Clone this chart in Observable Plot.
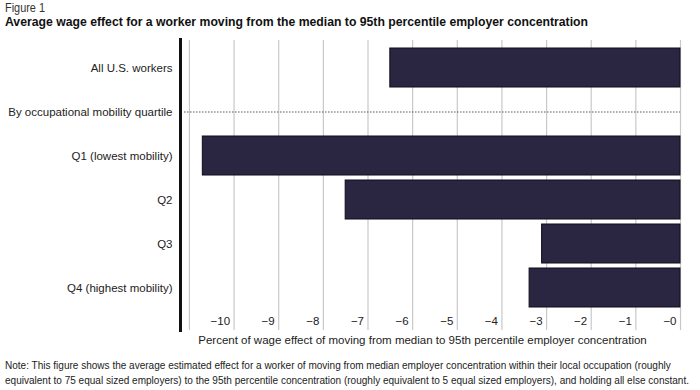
<!DOCTYPE html>
<html>
<head>
<meta charset="utf-8">
<script src="https://cdn.jsdelivr.net/npm/d3@7"></script>
<script src="https://cdn.jsdelivr.net/npm/@observablehq/plot@0.6"></script>
<style>
  html, body { margin: 0; padding: 0; background: #fff; }
  body { width: 700px; height: 390px; position: relative; overflow: hidden; font-family: "Liberation Sans", Arial, sans-serif; }
  .line { position: absolute; left: 5px; white-space: nowrap; transform-origin: 0 50%; display: inline-block; }
  .fig { top: 1px; font: 12.5px "Liberation Sans", Arial, sans-serif; color: #333; }
  .title { top: 14px; font: bold 13.5px "Liberation Sans", Arial, sans-serif; color: #111; }
  #chart { position: absolute; left: 0; top: 34px; }
  .note { font: 11px "Liberation Sans", Arial, sans-serif; color: #222; }
</style>
</head>
<body>
<span class="line fig" id="fig"></span>
<span class="line title" id="title"></span>
<div id="chart"></div>
<span class="line note" id="note1" style="top:359px"></span>
<span class="line note" id="note2" style="top:374px"></span>
<script>
const figureLabel = "Figure 1";
const titleText = "Average wage effect for a worker moving from the median to 95th percentile employer concentration";
const categories = ["All U.S. workers", "By occupational mobility quartile", "Q1 (lowest mobility)", "Q2", "Q3", "Q4 (highest mobility)"];
const values = [-6.50, null, -10.70, -7.50, -3.10, -3.38];
const separatorCategory = "By occupational mobility quartile";
const gridTicks = [-11, -10, -9, -8, -7, -6, -5, -4, -3, -2, -1, 0];
const labelTicks = [-10, -9, -8, -7, -6, -5, -4, -3, -2, -1, 0];
const tickLabels = ["−10", "−9", "−8", "−7", "−6", "−5", "−4", "−3", "−2", "−1", "−0"];
const xLabel = "Percent of wage effect of moving from median to 95th percentile employer concentration";
const noteLines = [
  "Note: This figure shows the average estimated effect for a worker of moving from median employer concentration within their local occupation (roughly",
  "equivalent to 75 equal sized employers) to the 95th percentile concentration (roughly equivalent to 5 equal sized employers), and holding all else constant."
];

function fit(el, text, target) {
  el.textContent = text;
  const w = el.getBoundingClientRect().width;
  const s = target / w;
  el.style.transform = `scaleX(${s})`;
  return s;
}
fit(document.getElementById("fig"), figureLabel, 40);
fit(document.getElementById("title"), titleText, 583);
const ns = fit(document.getElementById("note2"), noteLines[1], 684);
const n1 = document.getElementById("note1");
n1.textContent = noteLines[0];
n1.style.transform = `scaleX(${ns})`;

const xMin = -11.2;
const data = categories.map((c, i) => ({category: c, value: values[i]})).filter(d => d.value != null);
const tickText = new Map(labelTicks.map((t, i) => [t, tickLabels[i]]));

const chart = Plot.plot({
  width: 700,
  height: 320,
  marginLeft: 180,
  marginRight: 20,
  marginTop: 6,
  marginBottom: 24,
  style: {fontFamily: "'Liberation Sans', Arial, sans-serif", fontSize: "11.5px", color: "#222", background: "#fff"},
  x: {domain: [xMin, 0], label: null},
  y: {domain: categories, range: [8.5, 278.5], paddingInner: 0.111, paddingOuter: 0.0556, label: null},
  marks: [
    Plot.gridX(gridTicks, {stroke: "#c8c8c8", strokeOpacity: 1, strokeWidth: 1.2}),
    Plot.ruleY([separatorCategory], {x1: xMin, x2: 0, insetLeft: 4, stroke: "#555", strokeWidth: 1.2, strokeDasharray: "1.5,1.5"}),
    Plot.barX(data, {y: "category", x1: "value", x2: 0, fill: "#2a2540", stroke: "#0e0c1a", strokeWidth: 1}),
    Plot.ruleX([xMin], {stroke: "#111", strokeWidth: 3, insetTop: -2, insetBottom: -2}),
    Plot.axisY({tickSize: 0, tickPadding: 8, label: null}),
    Plot.axisX(labelTicks, {tickSize: 0, tickPadding: -14, tickFormat: d => tickText.get(d), textAnchor: "end", dx: -4, label: null}),
    Plot.text([xLabel], {frameAnchor: "bottom", dy: 13, dx: -8, fill: "#222", fontSize: 11.5})
  ]
});
document.getElementById("chart").appendChild(chart);
</script>
</body>
</html>
